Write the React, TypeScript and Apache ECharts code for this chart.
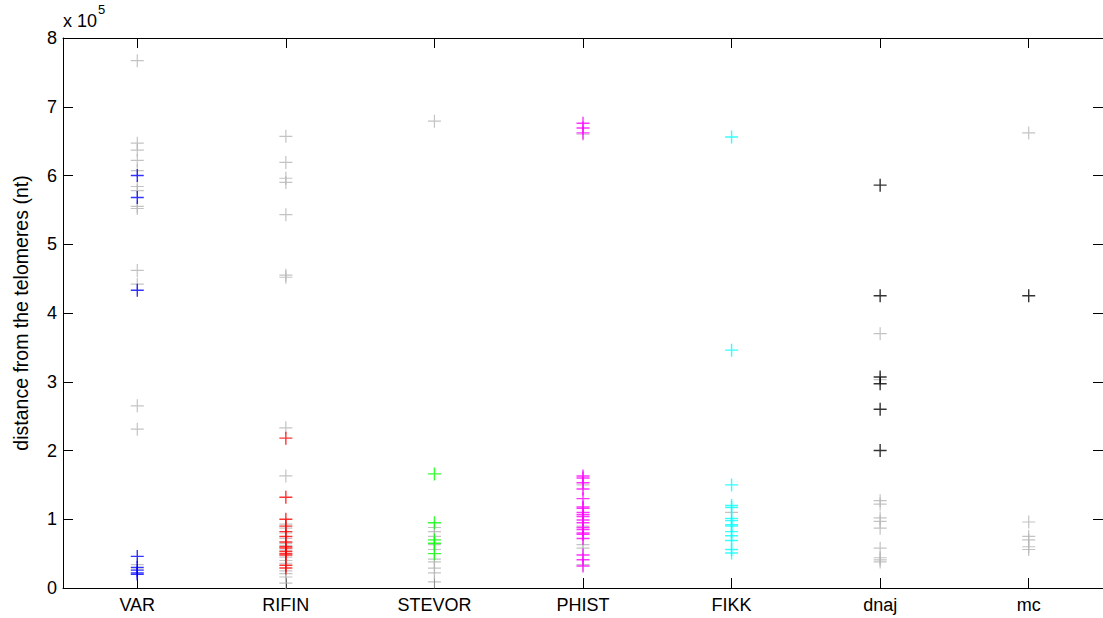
import React, { useEffect, useRef } from "react";
import * as echarts from "echarts";

// Categories (gene families)
const categories = ["VAR", "RIFIN", "STEVOR", "PHIST", "FIKK", "dnaj", "mc"];

// Values in units of 10^5 nt (distance from the telomeres)
const greyVAR = [7.67, 6.47, 6.37, 6.22, 6.07, 5.84, 5.78, 5.55, 5.52, 4.62, 4.42, 2.65, 2.31, 0.34, 0.28];
const greyRIFIN = [6.57, 6.19, 5.96, 5.9, 5.43, 4.55, 4.52, 2.33, 1.63, 0.93, 0.87, 0.8, 0.72, 0.65, 0.62, 0.55, 0.45, 0.4, 0.36, 0.25, 0.21, 0.16, 0.07];
const greySTEVOR = [6.79, 0.88, 0.82, 0.75, 0.63, 0.56, 0.42, 0.38, 0.29, 0.22, 0.09];
const greyPHIST = [6.6, 1.5, 0.9, 0.63, 0.58, 0.34];
const greyFIKK = [1.1];
const greyDNAJ = [3.7, 3.03, 1.27, 1.22, 1.02, 0.97, 0.87, 0.58, 0.44, 0.41, 0.38];
const greyMC = [6.62, 0.96, 0.75, 0.7, 0.6, 0.56];

const colVAR = [6.0, 5.68, 4.33, 0.46, 0.3, 0.26, 0.22, 0.2];
const colRIFIN = [2.18, 1.32, 1.0, 0.9, 0.82, 0.75, 0.67, 0.6, 0.58, 0.53, 0.5, 0.48, 0.33, 0.29];
const colSTEVOR = [1.66, 0.95, 0.7, 0.65, 0.5];
const colPHIST = [6.76, 6.69, 6.62, 1.63, 1.6, 1.53, 1.44, 1.3, 1.18, 1.16, 1.1, 1.07, 1.04, 0.99, 0.95, 0.88, 0.85, 0.8, 0.78, 0.72, 0.48, 0.41, 0.32];
const colFIKK = [6.56, 3.46, 1.5, 1.2, 1.17, 1.01, 0.98, 0.92, 0.9, 0.82, 0.76, 0.69, 0.56, 0.51];
const colDNAJ = [5.86, 4.25, 3.07, 2.97, 2.6, 2.0];
const colMC = [4.25];

const greyGroups = [greyVAR, greyRIFIN, greySTEVOR, greyPHIST, greyFIKK, greyDNAJ, greyMC];
const colGroups = [colVAR, colRIFIN, colSTEVOR, colPHIST, colFIKK, colDNAJ, colMC];
const colours = ["#0000ff", "#ff0000", "#00ff00", "#ff00ff", "#00ffff", "#000000", "#000000"];
const greyColour = "#b4b4b4";

const yTicks = [0, 1, 2, 3, 4, 5, 6, 7, 8];
const xTicks = [1, 2, 3, 4, 5, 6, 7];

const PLUS = "path://M5,0 L5,10 M0,5 L10,5";

export default function App() {
  const ref = useRef<HTMLDivElement>(null);
  useEffect(() => {
    if (!ref.current) return;
    const chart = echarts.init(ref.current, null, { renderer: "svg" });
    const font = "'Liberation Sans', Arial, Helvetica, sans-serif";
    const series: any[] = [];
    greyGroups.forEach((g, i) => {
      series.push({
        type: "scatter",
        symbol: PLUS,
        symbolSize: 13,
        data: g.map((v) => [i + 1, v]),
        itemStyle: { color: "rgba(0,0,0,0)", borderColor: greyColour, borderWidth: 1.2 },
        emphasis: { disabled: true },
        z: 2,
      });
    });
    colGroups.forEach((g, i) => {
      series.push({
        type: "scatter",
        symbol: PLUS,
        symbolSize: 13,
        data: g.map((v) => [i + 1, v]),
        itemStyle: { color: "rgba(0,0,0,0)", borderColor: colours[i], borderWidth: 1.4 },
        emphasis: { disabled: true },
        z: 3,
      });
    });
    const tickLen = 10;
    const fs = 18;
    chart.setOption({
      animation: false,
      textStyle: { fontFamily: font },
      grid: { left: 63, top: 38, right: -6, bottom: 30, containLabel: false },
      xAxis: [
        {
          type: "value",
          min: 0.5,
          max: 7.5,
          position: "bottom",
          axisLine: { show: true, lineStyle: { color: "#000", width: 1 } },
          axisTick: { show: true, inside: true, length: tickLen, customValues: xTicks, lineStyle: { color: "#000" } },
          axisLabel: {
            show: true,
            customValues: xTicks,
            formatter: (v: number) => categories[Math.round(v) - 1] ?? "",
            color: "#000",
            fontSize: fs,
            fontFamily: font,
            margin: 8,
          },
          splitLine: { show: false },
        },
        {
          type: "value",
          min: 0.5,
          max: 7.5,
          position: "top",
          axisLine: { show: true, onZero: false, lineStyle: { color: "#000", width: 1 } },
          axisTick: { show: true, inside: true, length: tickLen, customValues: xTicks, lineStyle: { color: "#000" } },
          axisLabel: { show: false },
          splitLine: { show: false },
        },
      ],
      yAxis: [
        {
          type: "value",
          min: 0,
          max: 8,
          interval: 1,
          position: "left",
          name: "distance from the telomeres (nt)",
          nameLocation: "middle",
          nameGap: 32,
          nameTextStyle: { color: "#000", fontSize: 19.5, fontFamily: font },
          axisLine: { show: true, lineStyle: { color: "#000", width: 1 } },
          axisTick: { show: true, inside: true, length: tickLen, lineStyle: { color: "#000" } },
          axisLabel: {
            show: true,
            color: "#000",
            fontSize: fs,
            fontFamily: font,
            margin: 6,
            formatter: (v: number) => (yTicks.includes(v) ? String(v) : ""),
          },
          splitLine: { show: false },
        },
        {
          type: "value",
          min: 0,
          max: 8,
          interval: 1,
          position: "right",
          axisLine: { show: true, onZero: false, lineStyle: { color: "#000", width: 1 } },
          axisTick: { show: true, inside: true, length: tickLen, lineStyle: { color: "#000" } },
          axisLabel: { show: false },
          splitLine: { show: false },
        },
      ],
      graphic: [
        {
          type: "text",
          left: 63,
          top: 12,
          style: { text: "x 10", fontSize: fs, fontFamily: font, fill: "#000" },
        },
        {
          type: "text",
          left: 98,
          top: 3,
          style: { text: "5", fontSize: 13, fontFamily: font, fill: "#000" },
        },
      ],
      series,
    });
    return () => chart.dispose();
  }, []);
  return <div ref={ref} style={{ position: "fixed", left: 0, top: 0, width: 1103, height: 618, background: "#fff" }} />;
}
